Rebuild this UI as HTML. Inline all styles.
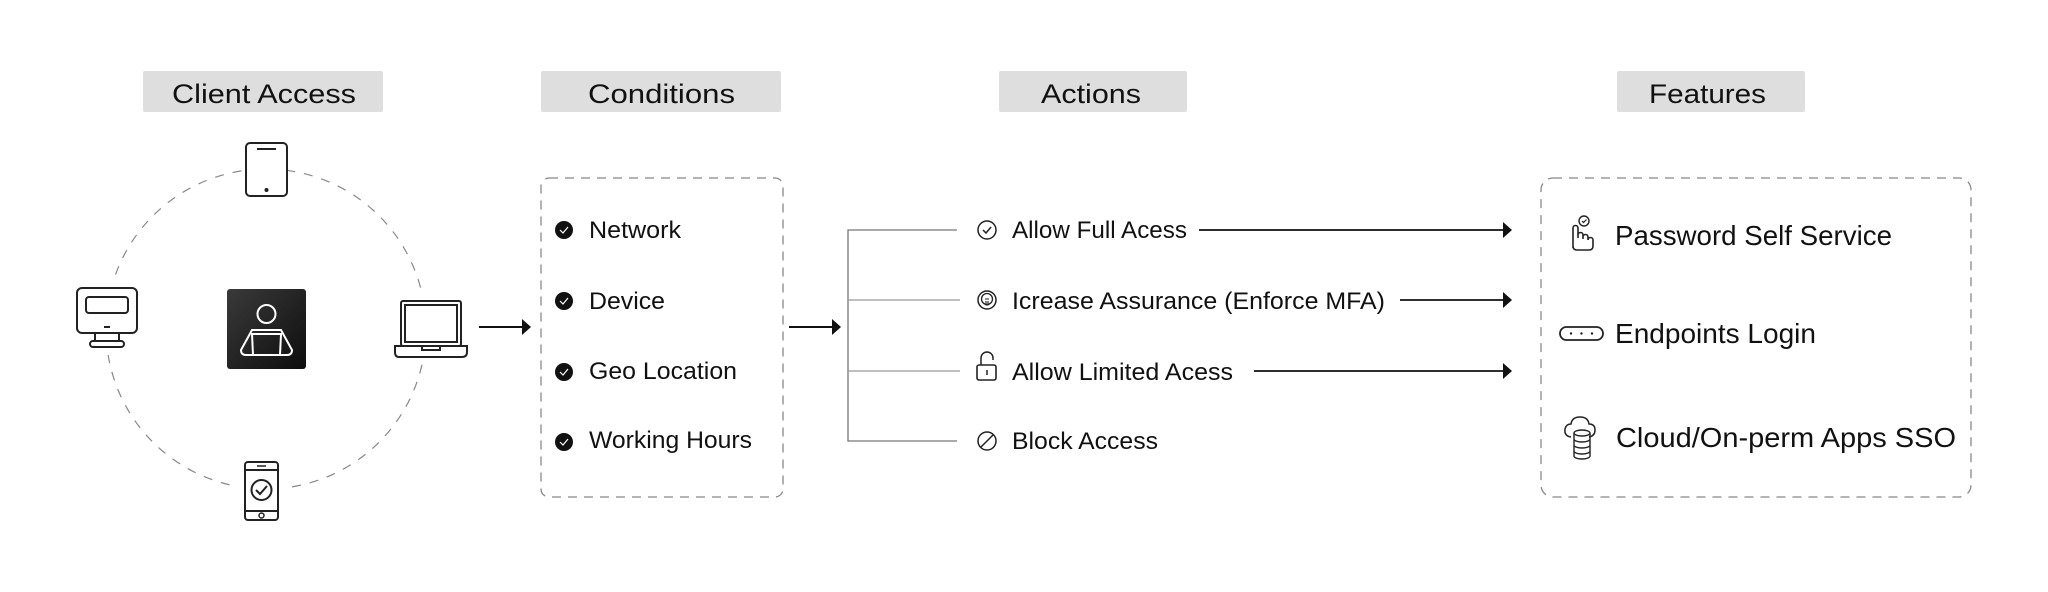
<!DOCTYPE html>
<html><head><meta charset="utf-8"><style>
html,body{margin:0;padding:0;background:#fff;}
svg{display:block;}
text{font-family:"Liberation Sans",sans-serif;fill:#111;}
</style></head><body>
<svg width="2048" height="592" viewBox="0 0 2048 592" xmlns="http://www.w3.org/2000/svg">
<defs>
<linearGradient id="dg" x1="0" y1="0" x2="1" y2="1"><stop offset="0" stop-color="#3a3a3a"/><stop offset="1" stop-color="#0d0d0d"/></linearGradient>
</defs>
<!-- header labels -->
<rect x="143" y="71" width="240" height="41" rx="2" fill="#dedede"/>
<text x="172" y="103" font-size="27" textLength="184" lengthAdjust="spacingAndGlyphs">Client Access</text>
<rect x="541" y="71" width="240" height="41" rx="2" fill="#dedede"/>
<text x="588" y="103" font-size="27" textLength="147" lengthAdjust="spacingAndGlyphs">Conditions</text>
<rect x="999" y="71" width="188" height="41" rx="2" fill="#dedede"/>
<text x="1041" y="103" font-size="27" textLength="100" lengthAdjust="spacingAndGlyphs">Actions</text>
<rect x="1617" y="71" width="188" height="41" rx="2" fill="#dedede"/>
<text x="1649" y="103" font-size="27" textLength="117" lengthAdjust="spacingAndGlyphs">Features</text>

<!-- client circle -->
<circle cx="266" cy="329" r="160" fill="none" stroke="#888" stroke-width="1.2" stroke-dasharray="9 9"/>
<!-- top phone -->
<rect x="246" y="143" width="41" height="53" rx="4" fill="#fff" stroke="#222" stroke-width="2"/>
<line x1="257" y1="149" x2="276" y2="149" stroke="#222" stroke-width="2"/>
<circle cx="266.5" cy="190" r="2" fill="#222"/>
<!-- monitor -->
<rect x="72" y="275" width="70" height="80" fill="#fff"/>
<rect x="77" y="288" width="60" height="45" rx="5" fill="none" stroke="#222" stroke-width="2"/>
<rect x="86" y="297" width="42" height="16" rx="3" fill="none" stroke="#222" stroke-width="2"/>
<line x1="104" y1="327" x2="110" y2="327" stroke="#222" stroke-width="2"/>
<rect x="95" y="333" width="24" height="8" fill="none" stroke="#222" stroke-width="2"/>
<rect x="90" y="341" width="34" height="6" rx="3" fill="none" stroke="#222" stroke-width="2"/>
<!-- center user -->
<rect x="227" y="289" width="79" height="80" rx="3" fill="url(#dg)"/>
<circle cx="266.5" cy="314" r="9" fill="none" stroke="#fff" stroke-width="2"/>
<path d="M252 330 L281 330 L292 350 Q292 355 287 355 L246 355 Q241 355 241 350 Z" fill="none" stroke="#fff" stroke-width="2"/>
<path d="M252 334 L281 334 L280 355 L253 355 Z" fill="none" stroke="#fff" stroke-width="2"/>
<!-- laptop -->
<rect x="388" y="295" width="85" height="66" fill="#fff"/>
<rect x="401" y="301" width="60" height="45" rx="2" fill="none" stroke="#222" stroke-width="2"/>
<rect x="405" y="305" width="52" height="37" fill="none" stroke="#222" stroke-width="2"/>
<path d="M395 346 L467 346 L467 352 Q467 357 462 357 L399 357 Q395 357 395 352 Z" fill="none" stroke="#222" stroke-width="2"/>
<path d="M422 346 L422 350 L440 350 L440 346" fill="none" stroke="#222" stroke-width="2"/>
<!-- bottom phone -->
<rect x="238" y="455" width="48" height="72" fill="#fff"/>
<rect x="245" y="462" width="33" height="58" rx="3" fill="none" stroke="#222" stroke-width="2"/>
<line x1="245" y1="470" x2="278" y2="470" stroke="#222" stroke-width="2"/>
<line x1="245" y1="511" x2="278" y2="511" stroke="#222" stroke-width="2"/>
<line x1="257" y1="466" x2="266" y2="466" stroke="#222" stroke-width="1.5"/>
<circle cx="261.5" cy="490" r="10" fill="none" stroke="#222" stroke-width="2"/>
<path d="M256 490 L260 494 L267 486" fill="none" stroke="#222" stroke-width="2"/>
<circle cx="261.5" cy="515.5" r="2.5" fill="none" stroke="#222" stroke-width="1.5"/>

<!-- arrow 1 -->
<line x1="479" y1="327" x2="524" y2="327" stroke="#111" stroke-width="2"/>
<path d="M522 319 L531 327 L522 335 Z" fill="#111"/>

<!-- conditions box -->
<rect x="541" y="178" width="242" height="319" rx="8" fill="none" stroke="#888" stroke-width="1.3" stroke-dasharray="9 7"/>
<g>
<circle cx="564" cy="230" r="9" fill="#111"/><path d="M560 230 l3 3 l5 -6" stroke="#fff" stroke-width="1.2" fill="none"/>
<circle cx="564" cy="301" r="9" fill="#111"/><path d="M560 301 l3 3 l5 -6" stroke="#fff" stroke-width="1.2" fill="none"/>
<circle cx="564" cy="372" r="9" fill="#111"/><path d="M560 372 l3 3 l5 -6" stroke="#fff" stroke-width="1.2" fill="none"/>
<circle cx="564" cy="442" r="9" fill="#111"/><path d="M560 442 l3 3 l5 -6" stroke="#fff" stroke-width="1.2" fill="none"/>
</g>
<text x="589" y="238" font-size="24" textLength="92" lengthAdjust="spacingAndGlyphs">Network</text>
<text x="589" y="309" font-size="24" textLength="76" lengthAdjust="spacingAndGlyphs">Device</text>
<text x="589" y="379" font-size="24" textLength="148" lengthAdjust="spacingAndGlyphs">Geo Location</text>
<text x="589" y="448" font-size="24" textLength="163" lengthAdjust="spacingAndGlyphs">Working Hours</text>

<!-- arrow 2 -->
<line x1="789" y1="327" x2="833" y2="327" stroke="#111" stroke-width="2"/>
<path d="M832 319 L841 327 L832 335 Z" fill="#111"/>

<!-- bracket -->
<path d="M957 230 L848 230 L848 441 L957 441" fill="none" stroke="#777" stroke-width="1.3"/>
<line x1="848" y1="300" x2="960" y2="300" stroke="#999" stroke-width="1.3"/>
<line x1="848" y1="371" x2="960" y2="371" stroke="#999" stroke-width="1.3"/>

<!-- action icons -->
<circle cx="987" cy="230" r="9" fill="none" stroke="#222" stroke-width="1.5"/>
<path d="M983 230 l3 3 l5 -6" fill="none" stroke="#222" stroke-width="1.5"/>
<circle cx="987" cy="300" r="9" fill="none" stroke="#222" stroke-width="1.5"/>
<circle cx="987" cy="299" r="5.5" fill="none" stroke="#222" stroke-width="1.3"/>
<path d="M985 299 h4 M986 301 v4 h2 v-4" fill="none" stroke="#222" stroke-width="1.1"/>
<path d="M981 365 v-7 a6 6 0 0 1 12 0 v2" fill="none" stroke="#222" stroke-width="1.5"/>
<rect x="977" y="365" width="19" height="15" rx="2" fill="none" stroke="#222" stroke-width="1.6"/>
<line x1="987" y1="370" x2="987" y2="375" stroke="#222" stroke-width="1.5"/>
<circle cx="987" cy="441" r="9" fill="none" stroke="#222" stroke-width="1.5"/>
<line x1="981" y1="447" x2="993" y2="435" stroke="#222" stroke-width="1.5"/>

<text x="1012" y="238" font-size="24" textLength="175" lengthAdjust="spacingAndGlyphs">Allow Full Acess</text>
<text x="1012" y="309" font-size="24" textLength="373" lengthAdjust="spacingAndGlyphs">Icrease Assurance (Enforce MFA)</text>
<text x="1012" y="380" font-size="24" textLength="221" lengthAdjust="spacingAndGlyphs">Allow Limited Acess</text>
<text x="1012" y="449" font-size="24" textLength="146" lengthAdjust="spacingAndGlyphs">Block Access</text>

<!-- arrows to features -->
<line x1="1199" y1="230" x2="1505" y2="230" stroke="#111" stroke-width="1.8"/>
<path d="M1503 222 L1512 230 L1503 238 Z" fill="#111"/>
<line x1="1400" y1="300" x2="1505" y2="300" stroke="#111" stroke-width="1.8"/>
<path d="M1503 292 L1512 300 L1503 308 Z" fill="#111"/>
<line x1="1254" y1="371" x2="1505" y2="371" stroke="#111" stroke-width="1.8"/>
<path d="M1503 363 L1512 371 L1503 379 Z" fill="#111"/>

<!-- features box -->
<rect x="1541" y="178" width="430" height="319" rx="12" fill="none" stroke="#888" stroke-width="1.3" stroke-dasharray="9 7"/>
<!-- hand icon -->
<path d="M1573 248 v-20 a2.5 2.5 0 0 1 5 0 v10 M1578 235 a2.5 2.5 0 0 1 5 0 v4 M1583 237 a2.5 2.5 0 0 1 5 0 v3 a2.5 2.5 0 0 1 5 0 v6 q0 4 -4 4 h-12 q-4 0 -4 -4" fill="none" stroke="#222" stroke-width="1.6"/>
<circle cx="1584" cy="221" r="5" fill="none" stroke="#222" stroke-width="1.4"/>
<path d="M1582 221 l1.5 1.5 l3 -3" fill="none" stroke="#222" stroke-width="1.2"/>
<!-- endpoint icon -->
<rect x="1560" y="327" width="43" height="13" rx="6.5" fill="none" stroke="#222" stroke-width="1.8"/>
<circle cx="1571" cy="333.5" r="1.2" fill="#222"/><circle cx="1581.5" cy="333.5" r="1.2" fill="#222"/><circle cx="1592" cy="333.5" r="1.2" fill="#222"/>
<!-- cloud db icon -->
<path d="M1571 437 q-7 -1 -6 -8 q1 -5 6 -5 q1 -7 9 -7 q8 0 9 7 q6 0 6 6 q0 6 -6 7" fill="none" stroke="#222" stroke-width="1.5"/>
<ellipse cx="1582" cy="433" rx="8" ry="3" fill="#fff" stroke="#222" stroke-width="1.4"/>
<path d="M1574 433 v23 a8 3 0 0 0 16 0 v-23 M1574 439 a8 3 0 0 0 16 0 M1574 445 a8 3 0 0 0 16 0 M1574 451 a8 3 0 0 0 16 0" fill="none" stroke="#222" stroke-width="1.4"/>

<text x="1615" y="245" font-size="28" textLength="277" lengthAdjust="spacingAndGlyphs">Password Self Service</text>
<text x="1615" y="343" font-size="28" textLength="201" lengthAdjust="spacingAndGlyphs">Endpoints Login</text>
<text x="1616" y="447" font-size="28" textLength="340" lengthAdjust="spacingAndGlyphs">Cloud/On-perm Apps SSO</text>
</svg>
</body></html>
